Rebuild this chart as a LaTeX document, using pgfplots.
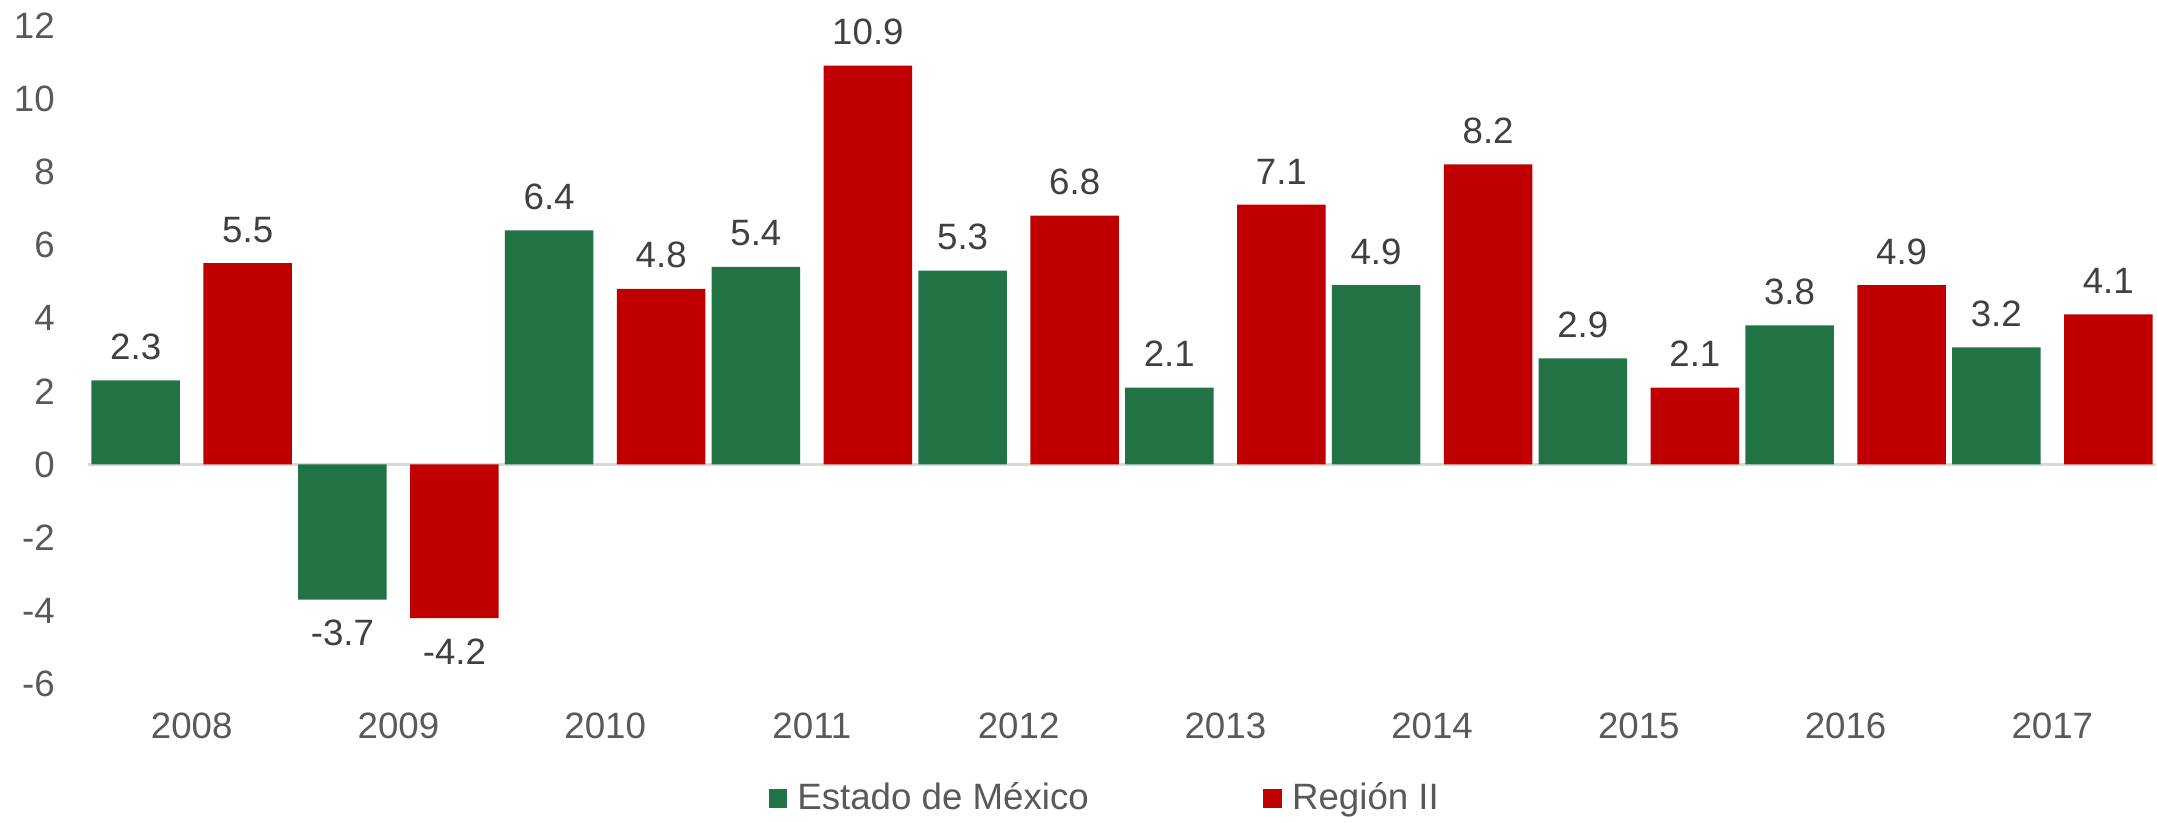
\documentclass[border=0pt]{standalone}
\usepackage{fontspec}
\setmainfont{Liberation Sans}
\usepackage{pgfplots}
\pgfplotsset{compat=1.18}
\definecolor{cgreen}{HTML}{217346}
\definecolor{cred}{HTML}{C00000}
\definecolor{ctick}{HTML}{595959}
\definecolor{clab}{HTML}{404040}
\definecolor{czero}{HTML}{D9D9D9}
\newcommand{\chartfont}{\fontsize{11}{13}\selectfont}
\begin{document}
\begin{tikzpicture}
\begin{axis}[
  name=ax,
  scale only axis,
  width=620.2pt, height=197.5pt,
  xmin=-0.5, xmax=9.5,
  ymin=-6, ymax=12,
  ytick={-6,-4,...,12},
  xtick={0,...,9},
  xticklabels={2008,2009,2010,2011,2012,2013,2014,2015,2016,2017},
  /pgf/number format/assume math mode=true,
  axis line style={draw=none},
  major tick length=0pt,
  tick style={draw=none},
  every tick label/.append style={font=\chartfont, text=ctick},
  yticklabel style={anchor=east, inner sep=0pt, xshift=-9.9pt},
  xticklabel style={anchor=north, inner sep=0pt, yshift=-8.6pt},
  extra y ticks={0},
  extra y tick labels={},
  extra y tick style={grid=major, major grid style={draw=czero, line width=0.9pt}},
  ybar,
  bar width=0.428,
  nodes near coords,
  nodes near coords align={vertical},
  every node near coord/.append style={font=\chartfont, text=clab, inner xsep=0pt, inner ysep=6pt,
    /pgf/number format/.cd, fixed, fixed zerofill, precision=1, assume math mode=true},
  legend columns=2,
  legend style={draw=none, fill=none, at={(0.4928,-0.1737)}, anchor=center,
    font=\chartfont, text=ctick, inner sep=0pt,
    /tikz/every odd column/.append style={column sep=1pt},
    /tikz/every even column/.append style={column sep=50.4pt}},
  legend image code/.code={\fill[#1] (0pt,-2.8pt) rectangle (5.6pt,2.8pt);},
]
\addplot[fill=cgreen, draw=none, bar shift=-0.271] coordinates {
  (0,2.3) (1,-3.7) (2,6.4) (3,5.4) (4,5.3) (5,2.1) (6,4.9) (7,2.9) (8,3.8) (9,3.2)};
\addlegendentry{Estado de México}
\addplot[fill=cred, draw=none, bar shift=0.271] coordinates {
  (0,5.5) (1,-4.2) (2,4.8) (3,10.9) (4,6.8) (5,7.1) (6,8.2) (7,2.1) (8,4.9) (9,4.1)};
\addlegendentry{Región II}
\end{axis}
\pgfresetboundingbox
\useasboundingbox ([shift={(-26.5pt,-41.5pt)}]ax.south west) rectangle ([shift={(0.4pt,7.65pt)}]ax.north east);
\end{tikzpicture}
\end{document}
